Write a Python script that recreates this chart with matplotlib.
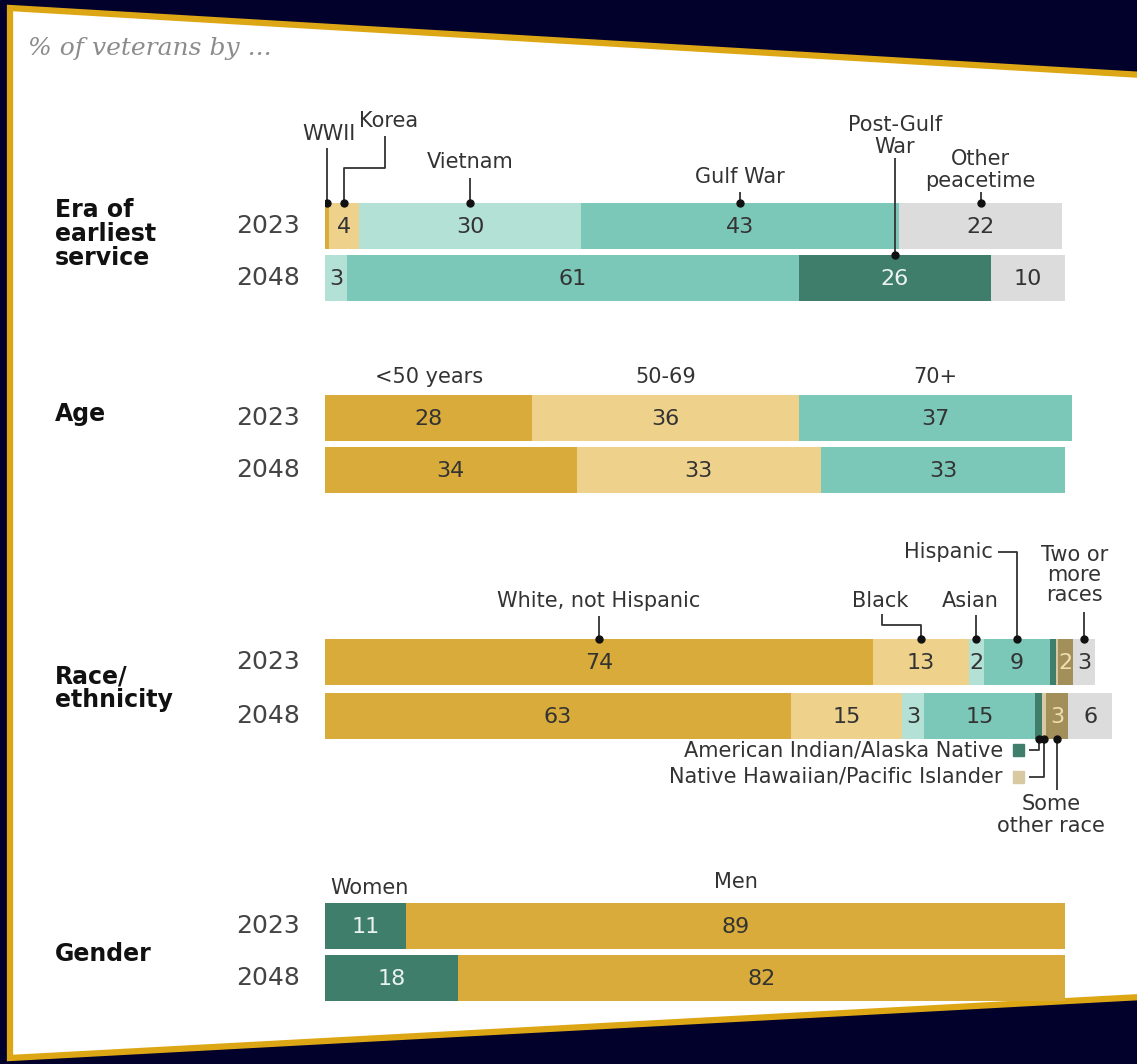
import matplotlib.pyplot as plt
from matplotlib.patches import Rectangle, Polygon
import numpy as np

# ============================================================
# Data
# ============================================================

years = ["2023", "2048"]

era_groups = ["WWII", "Korea", "Vietnam", "Gulf War", "Post-Gulf War", "Other peacetime"]
era_2023 = [0.6, 4, 30, 43, 0, 22]
era_2048 = [0, 0, 3, 61, 26, 10]

age_groups = ["<50 years", "50-69", "70+"]
age_2023 = [28, 36, 37]
age_2048 = [34, 33, 33]

race_groups = ["White, not Hispanic", "Black", "Asian", "Hispanic",
               "American Indian/Alaska Native", "Native Hawaiian/Pacific Islander",
               "Some other race", "Two or more races"]
race_2023 = [74, 13, 2, 9, 0.8, 0.3, 2, 3]
race_2048 = [63, 15, 3, 15, 0.9, 0.5, 3, 6]

gender_groups = ["Women", "Men"]
gender_2023 = [11, 89]
gender_2048 = [18, 82]

# ============================================================
# Style
# ============================================================

GOLD = "#D9AB3A"
LIGHT_GOLD = "#EED28C"
MINT = "#B4E1D5"
TEAL = "#7CC8B8"
DARK_GREEN = "#3F7E6B"
GREY = "#DCDCDC"
OLIVE = "#A38F5A"
TAN = "#D8C9A2"
NAVY = "#01012B"
TEXT = "#333333"

era_colors = [GOLD, LIGHT_GOLD, MINT, TEAL, DARK_GREEN, GREY]
age_colors = [GOLD, LIGHT_GOLD, TEAL]
race_colors = [GOLD, LIGHT_GOLD, MINT, TEAL, DARK_GREEN, TAN, OLIVE, GREY]
gender_colors = [DARK_GREEN, GOLD]

BAR_H = 46
W, H = 1137, 1064
BAR_LEFT, PX_PER_PCT = 325, 7.4
X_MAX = 112

fig = plt.figure(figsize=(W / 100, H / 100), dpi=100)

# background: navy with white tilted card and gold edge
bg = fig.add_axes([0, 0, 1, 1])
bg.set_xlim(0, W)
bg.set_ylim(H, 0)
bg.axis("off")
bg.add_patch(Rectangle((0, 0), W, H, color=NAVY, zorder=0))
bg.add_patch(Polygon([(10, 8), (1160, 76), (1160, 996), (10, 1058)],
                     closed=True, facecolor="white", edgecolor="#DDA614",
                     linewidth=4.5, zorder=1))

ax = fig.add_axes([BAR_LEFT / W, 0, PX_PER_PCT * X_MAX / W, 1])
ax.set_xlim(0, X_MAX)
ax.set_ylim(H, 0)
ax.axis("off")
ax.patch.set_visible(False)


def value_color(c):
    if c == DARK_GREEN:
        return "#EAF3EF"
    if c == OLIVE:
        return "#EFE0B0"
    return TEXT


def stacked_row(y, values, colors):
    lefts = np.concatenate([[0], np.cumsum(values)[:-1]])
    ax.barh(y, values, left=lefts, height=BAR_H, color=colors,
            linewidth=0, zorder=2)
    for v, l, c in zip(values, lefts, colors):
        if v >= 2:
            ax.text(l + v / 2, y + 1, f"{v:g}", ha="center", va="center",
                    fontsize=16, color=value_color(c), zorder=4)
    return lefts + np.array(values) / 2


def leader(points, dot_end=True):
    xs, ys = zip(*points)
    ax.plot(xs, ys, color=TEXT, lw=1.3, zorder=5, solid_capstyle="butt")
    if dot_end:
        ax.plot(xs[-1], ys[-1], "o", color="#111111", ms=5, zorder=6)


def section(label, y_label, rows_y):
    bg.text(55, y_label, label, ha="left", va="center", fontsize=17,
            fontweight="bold", color="#111111", linespacing=1.0, zorder=3)
    for yr, y in zip(years, rows_y):
        bg.text(300, y, yr, ha="right", va="center", fontsize=18,
                color="#444444", zorder=3)


ANN = dict(fontsize=15, color=TEXT, zorder=5)

# title
bg.text(28, 48, "% of veterans by ...", ha="left", va="center",
        fontsize=18, style="italic", family="DejaVu Serif",
        color="#8C8C8C", zorder=3)

# ------------------------------------------------------------
# Era of earliest service
# ------------------------------------------------------------
era_y = [226, 278]
section("Era of\nearliest\nservice", 234, era_y)
c23 = stacked_row(era_y[0], era_2023, era_colors)
c48 = stacked_row(era_y[1], era_2048, era_colors)
top23 = era_y[0] - BAR_H / 2
top48 = era_y[1] - BAR_H / 2

ax.text(c23[0] + 0.2, 134, "WWII", ha="center", va="center", **ANN)
leader([(c23[0], 148), (c23[0], top23)])
ax.text(c23[1] + 6, 121, "Korea", ha="center", va="center", **ANN)
leader([(c23[1] + 5.5, 136), (c23[1] + 5.5, 168), (c23[1], 168), (c23[1], top23)])
ax.text(c23[2], 162, "Vietnam", ha="center", va="center", **ANN)
leader([(c23[2], 178), (c23[2], top23)])
ax.text(c23[3], 177, "Gulf War", ha="center", va="center", **ANN)
leader([(c23[3], 192), (c23[3], top23)])
ax.text(c48[4], 136, "Post-Gulf\nWar", ha="center", va="center",
        linespacing=1.1, **ANN)
leader([(c48[4], 158), (c48[4], top48)])
ax.text(c23[5], 170, "Other\npeacetime", ha="center", va="center",
        linespacing=1.1, **ANN)
leader([(c23[5], 192), (c23[5], top23)])

# ------------------------------------------------------------
# Age
# ------------------------------------------------------------
age_y = [418, 470]
section("Age", 414, age_y)
a23 = stacked_row(age_y[0], age_2023, age_colors)
stacked_row(age_y[1], age_2048, age_colors)
for name, x in zip(age_groups, a23):
    ax.text(x, 377, name, ha="center", va="center", **ANN)

# ------------------------------------------------------------
# Race / ethnicity
# ------------------------------------------------------------
race_y = [662, 716]
section("Race/\nethnicity", 688, race_y)
r23 = stacked_row(race_y[0], race_2023, race_colors)
r48 = stacked_row(race_y[1], race_2048, race_colors)
rtop = race_y[0] - BAR_H / 2
rbot = race_y[1] + BAR_H / 2

ax.text(r23[0], 601, "White, not Hispanic", ha="center", va="center", **ANN)
leader([(r23[0], 616), (r23[0], rtop)])
ax.text(r23[1] - 5.5, 601, "Black", ha="center", va="center", **ANN)
leader([(r23[1] - 5.2, 614), (r23[1] - 5.2, 625), (r23[1], 625), (r23[1], rtop)])
ax.text(r23[2] - 0.8, 601, "Asian", ha="center", va="center", **ANN)
leader([(r23[2], 615), (r23[2], rtop)])
ax.text(r23[3] - 3.2, 552, "Hispanic", ha="right", va="center", **ANN)
leader([(r23[3] - 2.6, 552), (r23[3], 552), (r23[3], rtop)])
ax.text(r23[7] - 1.3, 575, "Two or\nmore\nraces", ha="center", va="center",
        linespacing=1.0, **ANN)
leader([(r23[7], 612), (r23[7], rtop)])

# legend-style callouts under the 2048 bar
sq = 1.5
for i, yy in zip([4, 5], [750, 777]):
    ax.add_patch(Rectangle((93.0, yy - 6), sq, 12, color=race_colors[i], zorder=5))
    ax.text(91.6, yy, race_groups[i], ha="right", va="center", **ANN)
    leader([(r48[i], rbot), (r48[i], yy), (95.2, yy)], dot_end=False)
    ax.plot(r48[i], rbot, "o", color="#111111", ms=5, zorder=6)
leader([(r48[6], 790), (r48[6], rbot)])
ax.text(r48[6] - 0.8, 815, "Some\nother race", ha="center", va="center",
        linespacing=1.1, **ANN)

# ------------------------------------------------------------
# Gender
# ------------------------------------------------------------
gender_y = [926, 978]
section("Gender", 954, gender_y)
g23 = stacked_row(gender_y[0], gender_2023, gender_colors)
stacked_row(gender_y[1], gender_2048, gender_colors)
ax.text(g23[0] + 0.5, 888, gender_groups[0], ha="center", va="center", **ANN)
ax.text(g23[1], 882, gender_groups[1], ha="center", va="center", **ANN)

fig.savefig("out.png", dpi=100)
